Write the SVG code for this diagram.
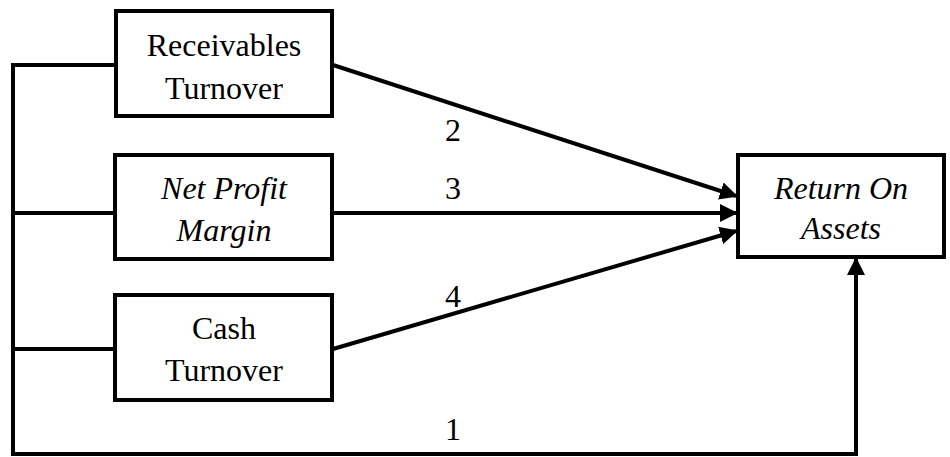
<svg xmlns="http://www.w3.org/2000/svg" width="950" height="457" viewBox="0 0 950 457">
<style>
.box{fill:#fff;stroke:#000;stroke-width:4}
.ln{fill:none;stroke:#000;stroke-width:4}
text{font-size:32px;fill:#000;text-anchor:middle}
.it{font-style:italic}
</style>
<defs>
<marker id="ah" markerWidth="4.5" markerHeight="4.5" refX="4" refY="2.25" orient="auto" markerUnits="strokeWidth">
<path d="M0,0 L4.5,2.25 L0,4.5 Z" fill="#000"/>
</marker>
</defs>
<g font-family="Liberation Serif, serif">
<g id="connectors">
<path class="ln" d="M116,65 H13 V454 H856 V259" marker-end="url(#ah)"/>
<path class="ln" d="M13,213 H115"/>
<path class="ln" d="M13,349 H115"/>
<path class="ln" d="M333,65 L736,196" marker-end="url(#ah)"/>
<path class="ln" d="M333,213 L736,213" marker-end="url(#ah)"/>
<path class="ln" d="M333,349 L736,231" marker-end="url(#ah)"/>
<text x="453" y="141">2</text>
<text x="453" y="199">3</text>
<text x="453" y="307">4</text>
<text x="453" y="440">1</text>
</g>
<g id="receivables">
<rect class="box" x="116" y="11" width="216" height="105"/>
<text x="224" y="56">Receivables</text>
<text x="224" y="99">Turnover</text>
</g>
<g id="netprofit">
<rect class="box" x="115" y="155" width="217" height="104"/>
<text class="it" x="224" y="199">Net Profit</text>
<text class="it" x="224" y="241">Margin</text>
</g>
<g id="cash">
<rect class="box" x="115" y="295" width="217" height="105"/>
<text x="224" y="339">Cash</text>
<text x="224" y="381">Turnover</text>
</g>
<g id="roa">
<rect class="box" x="738" y="155" width="206" height="102"/>
<text class="it" x="841" y="199">Return On</text>
<text class="it" x="841" y="239">Assets</text>
</g>
</g>
</svg>
